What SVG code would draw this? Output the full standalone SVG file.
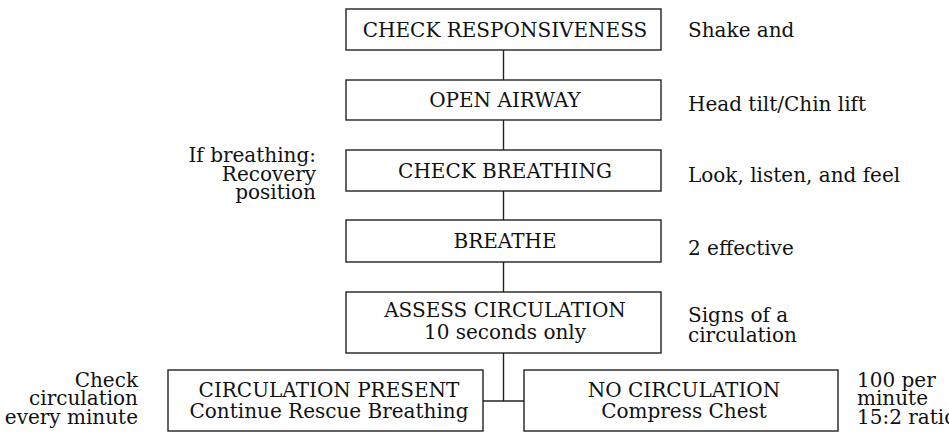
<svg xmlns="http://www.w3.org/2000/svg" width="949" height="433" viewBox="0 0 949 433">
<style>
text{font-family:"DejaVu Serif","Liberation Serif",serif;font-size:20px;fill:#111}
.box{fill:#fff;stroke:#222;stroke-width:1.4}
.c{text-anchor:middle}
.r{text-anchor:end}
.ln{stroke:#222;stroke-width:1.4;fill:none}
</style>
<rect width="949" height="433" fill="#fff"/>
<g id="connectors">
<line class="ln" x1="503.5" y1="50" x2="503.5" y2="80"/>
<line class="ln" x1="503.5" y1="120" x2="503.5" y2="150"/>
<line class="ln" x1="503.5" y1="191" x2="503.5" y2="220"/>
<line class="ln" x1="503.5" y1="262" x2="503.5" y2="292"/>
<line class="ln" x1="503.5" y1="353" x2="503.5" y2="401"/>
<line class="ln" x1="483" y1="401" x2="524" y2="401"/>
</g>
<g id="check-responsiveness">
<rect class="box" x="346" y="9" width="315" height="41"/>
<text class="c" x="505" y="37">CHECK RESPONSIVENESS</text>
</g>
<g id="open-airway">
<rect class="box" x="346" y="80" width="315" height="40"/>
<text class="c" x="505" y="107">OPEN AIRWAY</text>
</g>
<g id="check-breathing">
<rect class="box" x="346" y="150" width="315" height="41"/>
<text class="c" x="505" y="178">CHECK BREATHING</text>
</g>
<g id="breathe">
<rect class="box" x="346" y="220" width="315" height="42"/>
<text class="c" x="505" y="248">BREATHE</text>
</g>
<g id="assess-circulation">
<rect class="box" x="346" y="292" width="315" height="61"/>
<text class="c" x="505" y="317">ASSESS CIRCULATION</text>
<text class="c" x="505" y="339">10 seconds only</text>
</g>
<g id="circulation-present">
<rect class="box" x="168" y="370" width="315" height="61"/>
<text class="c" x="329" y="397">CIRCULATION PRESENT</text>
<text class="c" x="329" y="418">Continue Rescue Breathing</text>
</g>
<g id="no-circulation">
<rect class="box" x="524" y="370" width="314" height="61"/>
<text class="c" x="684" y="397">NO CIRCULATION</text>
<text class="c" x="684" y="418">Compress Chest</text>
</g>
<g id="notes">
<text x="688" y="37">Shake and</text>
<text x="688" y="111">Head tilt/Chin lift</text>
<text x="688" y="182">Look, listen, and feel</text>
<text x="688" y="255">2 effective</text>
<text x="688" y="322">Signs of a</text>
<text x="688" y="342">circulation</text>
<text x="857" y="387">100 per</text>
<text x="857" y="405">minute</text>
<text x="857" y="424">15:2 ratio</text>
<text class="r" x="316" y="162">If breathing:</text>
<text class="r" x="316" y="181">Recovery</text>
<text class="r" x="316" y="199">position</text>
<text class="r" x="138" y="387">Check</text>
<text class="r" x="138" y="405">circulation</text>
<text class="r" x="138" y="424">every minute</text>
</g>
</svg>
